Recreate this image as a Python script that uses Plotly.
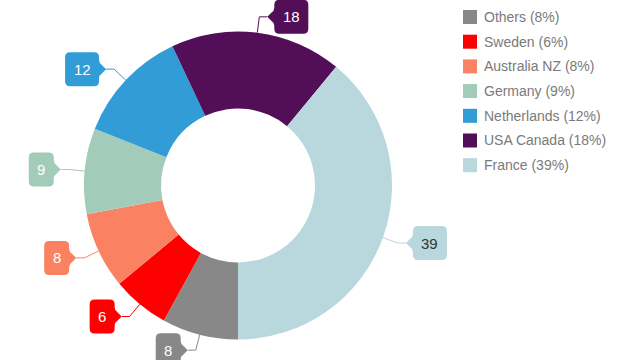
import math
import plotly.graph_objects as go

# ---- data ----
categories = ["Others", "Sweden", "Australia NZ", "Germany", "Netherlands", "USA Canada", "France"]
values = [8, 6, 8, 9, 12, 18, 39]
colors = ["#888888", "#fe0000", "#fa8263", "#a3cbb9", "#319cd6", "#520e56", "#b8d8de"]
label_font_colors = ["#ffffff", "#ffffff", "#ffffff", "#ffffff", "#ffffff", "#ffffff", "#333333"]

W, H = 635, 360
CX, CY, R = 238.0, 185.5, 154.0
START_DEG = 180.0  # first slice starts at 6 o'clock, clockwise

def px(x):
    return x / W

def py(y):
    return 1 - y / H

fig = go.Figure()
fig.add_trace(go.Pie(
    labels=categories,
    values=values,
    marker=dict(colors=colors, line=dict(width=0)),
    hole=0.5,
    sort=False,
    direction="clockwise",
    rotation=START_DEG,
    textinfo="none",
    hoverinfo="skip",
    showlegend=False,
    domain=dict(x=[px(CX - R), px(CX + R)], y=[py(CY + R), py(CY - R)]),
))

shapes = []
annotations = []
total = sum(values)
cum = 0.0
BOX_H = 34
RAD = 5
NOTCH = 7
for cat, v, col, fc in zip(categories, values, colors, label_font_colors):
    mid = START_DEG + (cum + v / 2) / total * 360.0
    cum += v
    th = math.radians(mid)
    s, c = math.sin(th), math.cos(th)
    P = (CX + R * s, CY - R * c)
    E = (CX + (R + 16) * s, CY - (R + 16) * c)
    right = s >= 0
    tip = (E[0] + 8, E[1]) if right else (E[0] - 8, E[1])
    w = 16 + 9 * len(str(v))
    if right:
        x0 = tip[0] + NOTCH
        x1 = x0 + w
    else:
        x1 = tip[0] - NOTCH
        x0 = x1 - w
    y0 = E[1] - BOX_H / 2
    y1 = E[1] + BOX_H / 2
    ym = E[1]
    # connector
    shapes.append(dict(
        type="path", xref="paper", yref="paper",
        path=f"M{px(P[0])},{py(P[1])} L{px(E[0])},{py(E[1])} L{px(tip[0])},{py(tip[1])}",
        line=dict(color=col, width=1), layer="above",
    ))
    # callout box (rounded rect with notch)
    pts = []
    def M(x, y):
        pts.append(f"M{px(x)},{py(y)}")
    def L(x, y):
        pts.append(f"L{px(x)},{py(y)}")
    def Q(cx_, cy_, x, y):
        pts.append(f"Q{px(cx_)},{py(cy_)} {px(x)},{py(y)}")
    M(x0 + RAD, y0)
    L(x1 - RAD, y0)
    Q(x1, y0, x1, y0 + RAD)
    if not right:
        L(x1, ym - 9)
        Q(x1, ym - 6, x1 + 3, ym - 4)
        L(x1 + NOTCH, ym)
        L(x1 + 3, ym + 4)
        Q(x1, ym + 6, x1, ym + 9)
    L(x1, y1 - RAD)
    Q(x1, y1, x1 - RAD, y1)
    L(x0 + RAD, y1)
    Q(x0, y1, x0, y1 - RAD)
    if right:
        L(x0, ym + 9)
        Q(x0, ym + 6, x0 - 3, ym + 4)
        L(x0 - NOTCH, ym)
        L(x0 - 3, ym - 4)
        Q(x0, ym - 6, x0, ym - 9)
    L(x0, y0 + RAD)
    Q(x0, y0, x0 + RAD, y0)
    pts.append("Z")
    shapes.append(dict(
        type="path", xref="paper", yref="paper", path=" ".join(pts),
        fillcolor=col, line=dict(width=0), layer="above",
    ))
    annotations.append(dict(
        x=px((x0 + x1) / 2), y=py(ym), xref="paper", yref="paper",
        text=str(v), showarrow=False, xanchor="center", yanchor="middle",
        font=dict(family="Liberation Sans, Arial, sans-serif", size=15, color=fc),
    ))

# ---- legend (manual) ----
LX, LY, DY, SQ = 463, 17, 24.7, 14
for i, (cat, v, col) in enumerate(zip(categories, values, colors)):
    yc = LY + DY * i
    shapes.append(dict(
        type="rect", xref="paper", yref="paper",
        x0=px(LX), x1=px(LX + SQ), y0=py(yc - SQ / 2), y1=py(yc + SQ / 2),
        fillcolor=col, line=dict(width=0),
    ))
    annotations.append(dict(
        x=px(LX + SQ + 5), y=py(yc), xref="paper", yref="paper",
        text=f"{cat} ({v}%)", showarrow=False, xanchor="left", yanchor="middle",
        font=dict(family="Liberation Sans, Arial, sans-serif", size=14, color="#7a7a7a"),
    ))

fig.update_layout(
    width=W, height=H,
    margin=dict(l=0, r=0, t=0, b=0),
    paper_bgcolor="white", plot_bgcolor="white",
    shapes=shapes, annotations=annotations,
    showlegend=False,
)
fig.write_html("out.html")
